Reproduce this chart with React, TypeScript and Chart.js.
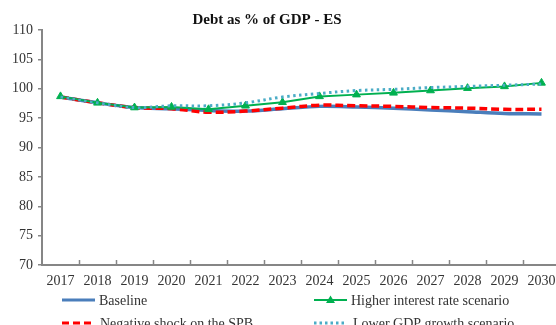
import React, { useEffect, useRef } from "react";
import { Chart, registerables } from "chart.js";

Chart.register(...registerables);

const title = "Debt as % of GDP - ES";
const years = ["2017", "2018", "2019", "2020", "2021", "2022", "2023", "2024", "2025", "2026", "2027", "2028", "2029", "2030"];
const baseline = [98.6, 97.6, 96.8, 96.6, 96.3, 96.2, 96.6, 97.0, 96.9, 96.7, 96.4, 96.1, 95.8, 95.7];
const higherInterest = [98.7, 97.6, 96.8, 96.9, 96.5, 97.1, 97.7, 98.7, 99.0, 99.3, 99.7, 100.1, 100.4, 101.0];
const negativeShock = [98.6, 97.6, 96.8, 96.6, 96.0, 96.2, 96.7, 97.2, 97.1, 97.0, 96.8, 96.7, 96.5, 96.5];
const lowerGdp = [98.6, 97.6, 96.8, 97.1, 97.1, 97.6, 98.6, 99.2, 99.7, 99.9, 100.2, 100.4, 100.6, 100.8];
const seriesNames = ["Baseline", "Higher interest rate scenario", "Negative shock on the SPB", "Lower GDP growth scenario"];
const yMin = 70;
const yMax = 110;
const yStep = 5;

const BLUE = "#4a7ebb";
const GREEN = "#00b050";
const RED = "#ff0000";
const CYAN = "#4bacc6";
const AXIS = "#868686";
const TEXT = "#333333";
const FONT = "'Liberation Serif', 'Times New Roman', serif";

const overlayPlugin = {
  id: "overlay",
  afterDraw(chart: any) {
    const ctx = chart.ctx as CanvasRenderingContext2D;
    const area = chart.chartArea;
    ctx.save();
    // title
    ctx.fillStyle = "#111";
    ctx.font = `bold 15px ${FONT}`;
    ctx.textAlign = "center";
    ctx.textBaseline = "middle";
    ctx.fillText(title, 267, 20);

    // x tick marks (inside, at category boundaries)
    const n = years.length;
    const step = (area.right - area.left) / n;
    ctx.strokeStyle = AXIS;
    ctx.lineWidth = 1.5;
    for (let i = 1; i < n; i++) {
      const x = Math.round(area.left + i * step) + 0.5;
      ctx.beginPath();
      ctx.moveTo(x, area.bottom);
      ctx.lineTo(x, area.bottom - 5);
      ctx.stroke();
    }

    // legend
    const items = [
      { name: seriesNames[0], color: BLUE, dash: [], width: 3, x: 62, len: 33, y: 300, tri: false },
      { name: seriesNames[1], color: GREEN, dash: [], width: 2, x: 314, len: 33, y: 300, tri: true },
      { name: seriesNames[2], color: RED, dash: [7, 4], width: 3, x: 62, len: 31, y: 323, tri: false },
      { name: seriesNames[3], color: CYAN, dash: [2.5, 3], width: 3, x: 314, len: 32, y: 323, tri: false },
    ];
    ctx.font = `14px ${FONT}`;
    ctx.textAlign = "left";
    ctx.textBaseline = "middle";
    for (const it of items) {
      ctx.strokeStyle = it.color;
      ctx.lineWidth = it.width;
      ctx.setLineDash(it.dash);
      ctx.beginPath();
      ctx.moveTo(it.x, it.y);
      ctx.lineTo(it.x + it.len, it.y);
      ctx.stroke();
      ctx.setLineDash([]);
      if (it.tri) {
        const cx = it.x + it.len / 2;
        ctx.fillStyle = it.color;
        ctx.beginPath();
        ctx.moveTo(cx, it.y - 4.5);
        ctx.lineTo(cx + 4.5, it.y + 3);
        ctx.lineTo(cx - 4.5, it.y + 3);
        ctx.closePath();
        ctx.fill();
      }
      ctx.fillStyle = TEXT;
      ctx.fillText(it.name, it.x + it.len + (it.dash.length ? 7 : 4), it.y + 1);
    }
    ctx.restore();
  },
};

export default function App() {
  const ref = useRef<HTMLCanvasElement | null>(null);

  useEffect(() => {
    document.body.style.margin = "0";
    document.body.style.overflow = "hidden";
    const canvas = ref.current;
    if (!canvas) return;
    const chart = new Chart(canvas, {
      type: "line",
      data: {
        labels: years,
        datasets: [
          {
            label: seriesNames[0],
            data: baseline,
            borderColor: BLUE,
            backgroundColor: BLUE,
            borderWidth: 3.5,
            pointRadius: 0,
            tension: 0.35,
            order: 4,
          },
          {
            label: seriesNames[1],
            data: higherInterest,
            borderColor: GREEN,
            backgroundColor: GREEN,
            borderWidth: 2,
            pointStyle: "triangle",
            pointRadius: 4.5,
            pointBorderWidth: 1,
            tension: 0,
            order: 2,
          },
          {
            label: seriesNames[2],
            data: negativeShock,
            borderColor: RED,
            backgroundColor: RED,
            borderWidth: 3.5,
            borderDash: [8, 4],
            pointRadius: 0,
            tension: 0.35,
            order: 3,
          },
          {
            label: seriesNames[3],
            data: lowerGdp,
            borderColor: CYAN,
            backgroundColor: CYAN,
            borderWidth: 3,
            borderDash: [2.5, 3.5],
            pointRadius: 0,
            tension: 0.35,
            order: 1,
          },
        ],
      },
      options: {
        responsive: false,
        animation: false,
        devicePixelRatio: 1,
        layout: { padding: { left: 0, top: 30, right: 12, bottom: 55 } },
        plugins: {
          legend: { display: false },
          title: { display: false },
          tooltip: { enabled: false },
        },
        scales: {
          x: {
            type: "category",
            offset: true,
            grid: { display: false, offset: true, drawTicks: false },
            border: { display: true, color: AXIS, width: 2 },
            ticks: {
              color: TEXT,
              font: { family: FONT, size: 14 },
              padding: 8,
              maxRotation: 0,
              autoSkip: false,
            },
            afterFit(scale: any) {
              scale.height = 25;
            },
          },
          y: {
            min: yMin,
            max: yMax,
            grid: { display: true, drawOnChartArea: false, drawTicks: true, tickLength: 4, color: AXIS, lineWidth: 1.5 },
            border: { display: true, color: AXIS, width: 2 },
            ticks: {
              stepSize: yStep,
              color: TEXT,
              font: { family: FONT, size: 14 },
              padding: 5,
            },
            afterFit(scale: any) {
              scale.width = 42;
            },
          },
        },
      },
      plugins: [overlayPlugin],
    } as any);
    return () => chart.destroy();
  }, []);

  return (
    <div style={{ position: "fixed", left: 0, top: 0, width: 556, height: 325, overflow: "hidden", background: "#fff" }}>
      <canvas ref={ref} width={572} height={345} style={{ display: "block" }} />
    </div>
  );
}
